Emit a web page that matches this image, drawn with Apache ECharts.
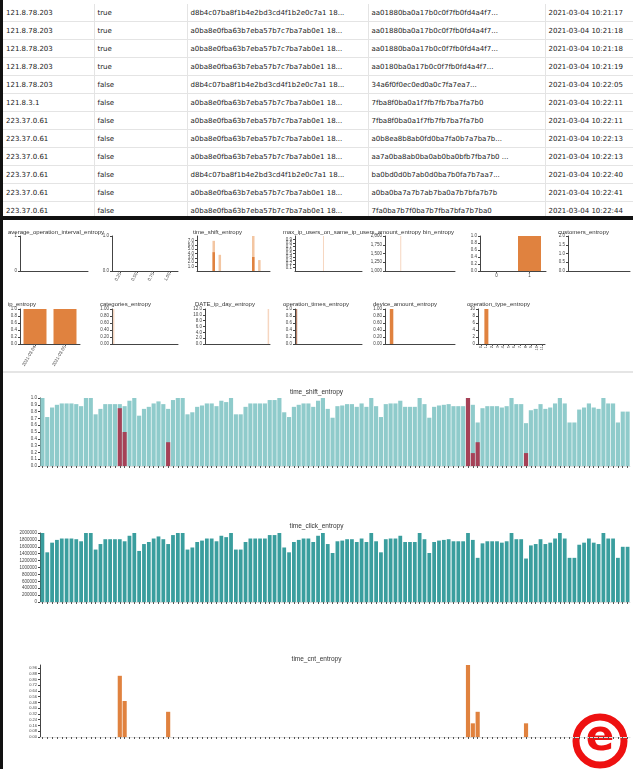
<!DOCTYPE html>
<html>
<head>
<meta charset="utf-8">
<script src="https://cdn.jsdelivr.net/npm/echarts@6/dist/echarts.min.js"></script>
<style>
  html, body { margin: 0; padding: 0; width: 633px; height: 769px; overflow: hidden; background: #fff; font-family: "DejaVu Sans", sans-serif; }
  .left-border { position: absolute; left: 0; top: 0; width: 3px; height: 769px; background: #111; }
  .table-wrap { position: absolute; left: 3px; top: 0; width: 630px; height: 216px; overflow: hidden; }
  .table-wrap table { border-collapse: collapse; margin-top: 4px; table-layout: fixed; width: 630px; }
  .table-wrap td { height: 17px; border-bottom: 1px solid #e4e4e4; border-right: 1px solid #e4e4e4; padding: 0 0 0 3px;
    font-size: 7px; color: #222; white-space: nowrap; overflow: hidden; }
  .table-wrap td:last-child { border-right: none; }
  .sep { position: absolute; left: 0; top: 216px; width: 633px; height: 4px; background: #111; }
  #chart { position: absolute; left: 0; top: 220px; width: 633px; height: 549px; }
</style>
</head>
<body>
<div class="table-wrap"><table id="tbl"></table></div>
<div class="left-border"></div>
<div class="sep"></div>
<div id="chart"></div>
<script>
// ---- table rows ----
const rowIps = ['121.8.78.203', '121.8.78.203', '121.8.78.203', '121.8.78.203', '121.8.78.203', '121.8.3.1',
  '223.37.0.61', '223.37.0.61', '223.37.0.61', '223.37.0.61', '223.37.0.61', '223.37.0.61'];
const rowFlags = ['true', 'true', 'true', 'true', 'false', 'false', 'false', 'false', 'false', 'false', 'false', 'false'];
const rowUserHash = [
  'd8b4c07ba8f1b4e2bd3cd4f1b2e0c7a1 18...', 'a0ba8e0fba63b7eba57b7c7ba7ab0e1 18...', 'a0ba8e0fba63b7eba57b7c7ba7ab0e1 18...',
  'a0ba8e0fba63b7eba57b7c7ba7ab0e1 18...', 'd8b4c07ba8f1b4e2bd3cd4f1b2e0c7a1 18...', 'a0ba8e0fba63b7eba57b7c7ba7ab0e1 18...',
  'a0ba8e0fba63b7eba57b7c7ba7ab0e1 18...', 'a0ba8e0fba63b7eba57b7c7ba7ab0e1 18...', 'a0ba8e0fba63b7eba57b7c7ba7ab0e1 18...',
  'd8b4c07ba8f1b4e2bd3cd4f1b2e0c7a1 18...', 'a0ba8e0fba63b7eba57b7c7ba7ab0e1 18...', 'a0ba8e0fba63b7eba57b7c7ba7ab0e1 18...'];
const rowSessionHash = [
  'aa01880ba0a17b0c0f7fb0fd4a4f7...', 'aa01880ba0a17b0c0f7fb0fd4a4f7...', 'aa01880ba0a17b0c0f7fb0fd4a4f7...',
  'aa0180ba0a17b0c0f7fb0fd4a4f7...', '34a6f0f0ec0ed0a0c7fa7ea7...', '7fba8f0ba0a1f7fb7fb7ba7fa7b0',
  '7fba8f0ba0a1f7fb7fb7ba7fa7b0', 'a0b8ea8b8ab0fd0ba7fa0b7a7ba7b...', 'aa7a0ba8ab0ba0ab0ba0bfb7fba7b0 ...',
  'ba0bd0d0b7ab0d0ba7b0fa7b7aa7...', 'a0ba0ba7a7b7ab7ba0a7b7bfa7b7b', '7fa0ba7b7f0ba7b7fba7bfa7b7ba0'];
const rowTimes = ['2021-03-04 10:21:17', '2021-03-04 10:21:18', '2021-03-04 10:21:18', '2021-03-04 10:21:19',
  '2021-03-04 10:22:05', '2021-03-04 10:22:11', '2021-03-04 10:22:11', '2021-03-04 10:22:13', '2021-03-04 10:22:13',
  '2021-03-04 10:22:40', '2021-03-04 10:22:41', '2021-03-04 10:22:44'];

const colWidths = [91, 93, 181, 177, 88];
const tbl = document.getElementById('tbl');
let html = '<colgroup>' + colWidths.map(w => `<col style="width:${w}px">`).join('') + '</colgroup>';
rowIps.forEach((ip, i) => {
  html += `<tr><td>${ip}</td><td>${rowFlags[i]}</td><td>${rowUserHash[i]}</td><td>${rowSessionHash[i]}</td><td>${rowTimes[i]}</td></tr>`;
});
tbl.innerHTML = html;

// ---- big charts data ----
// time_shift_entropy, one bar per day
const shiftEntropy = [
  1.0, 0.72, 0.86, 0.90, 0.92, 0.92, 0.92, 0.91, 0.88, 1.0,
  1.0, 0.76, 0.84, 0.91, 0.91, 0.91, 0.91, 0.88, 0.96, 1.0,
  0.74, 0.84, 0.87, 0.92, 0.95, 0.91, 0.84, 0.97, 1.0, 1.0,
  0.76, 0.79, 0.87, 0.89, 0.92, 0.92, 0.88, 0.96, 0.94, 1.0,
  0.76, 0.76, 0.87, 0.92, 0.92, 0.92, 0.92, 0.97, 0.97, 1.0,
  0.79, 0.72, 0.87, 0.90, 0.92, 0.92, 0.87, 0.96, 1.0, 0.84,
  0.71, 0.88, 0.89, 0.91, 0.91, 0.87, 0.92, 0.87, 1.0, 0.88,
  0.72, 0.91, 0.92, 0.92, 0.96, 0.87, 0.87, 0.87, 1.0, 0.91,
  0.71, 0.87, 0.89, 0.90, 0.91, 0.88, 0.88, 0.88, 1.0, 0.90,
  0.64, 0.85, 0.88, 0.88, 0.88, 0.86, 0.88, 1.0, 0.91, 0.91,
  0.63, 0.82, 0.84, 0.91, 0.84, 0.86, 0.92, 1.0, 0.92, 0.64,
  0.64, 0.83, 0.86, 0.92, 0.86, 0.84, 1.0, 0.92, 0.92, 0.64,
  0.80, 0.80
];
// time_click_entropy (same daily profile, large counts)
const clickEntropy = shiftEntropy;
// flagged days: index -> value
const flaggedDays = [16, 17, 26, 88, 89, 90, 100];
const flaggedVals = [0.85, 0.50, 0.35, 1.0, 0.19, 0.35, 0.19];
const days = shiftEntropy.map((_, i) => String(i + 1));
const flagged = days.map(() => 0);
flaggedDays.forEach((d, k) => { flagged[d] = flaggedVals[k]; });

// ---- small panel data ----
const shiftHistLight = [0, 0, 0, 0, 0, 6.9, 0, 3.7, 0, 0, 0, 0, 0, 0, 0, 0, 0, 0, 8.0, 0, 2.5, 0, 0, 0];
const shiftHistDark  = [0, 0, 0, 0, 0, 4.3, 0, 0, 0, 0, 0, 0, 0, 0, 0, 0, 0, 0, 3.2, 0, 0, 0, 0, 0];
const maxIpUsersHist = [0, 0, 0, 0, 0, 0, 0, 0, 1.0, 0, 0, 0, 0, 0, 0, 0, 0, 0, 0, 0];
const amountHist     = [0, 0, 0, 0, 2000, 0, 0, 0, 0, 0, 0, 0, 0, 0, 0, 0, 0, 0, 0, 0];
const binCats = ['0', '1'];
const binVals = [0, 1.0];
const ipCats = ['2021-03-04', '2021-03-05'];
const ipVals = [1.0, 1.0];
const categoriesHist = [1.0, 0, 0, 0, 0, 0, 0, 0, 0, 0, 0, 0, 0, 0, 0, 0, 0, 0, 0, 0];
const dateHist       = [0, 0, 0, 0, 0, 0, 0, 0, 0, 0, 0, 0, 0, 0, 0, 0, 0, 0, 0, 12];
const opTimesHist    = [1.0, 0, 0, 0, 0, 0, 0, 0, 0, 0, 0, 0, 0, 0, 0, 0, 0, 0, 0, 0];
const deviceHist     = [0, 1.0, 0, 0, 0, 0, 0, 0, 0, 0, 0, 0, 0, 0, 0, 0];
const opTypeCats = ['0', '1', '2', '3', '4', '5', '6', '7', '8', '9', '10', '11'];
const opTypeVals = [0, 10, 0, 0, 0, 0, 0, 0, 0, 0, 0, 0];
const intervalCats = ['0.25', '0.50', '0.75', '1.00'];

const ORANGE = '#e0823f', FAINT = '#f6d6c0', LIGHT = '#f3c6a2', BROWN = '#a8694a';
const blank = n => Array.from({ length: n }, (_, i) => String(i));

const option = { animation: false, title: [], grid: [], xAxis: [], yAxis: [], series: [], graphic: [] };

function addTitle(text, left, top, size) {
  option.title.push({ text, left, top, textStyle: { fontSize: size || 6, fontWeight: 'normal', color: '#333' } });
}

function addPanel(p) {
  const i = option.grid.length;
  option.grid.push({ left: p.left, top: p.top, width: p.width, height: p.height });
  option.xAxis.push({
    gridIndex: i, type: 'category', data: p.cats,
    axisLine: { lineStyle: { color: p.xLineColor || '#444' } },
    axisTick: { show: !!p.xTick, length: 2, alignWithLabel: true, interval: 0, lineStyle: { color: '#555' } },
    axisLabel: { show: !!p.xLabels, fontSize: p.xFont || 4.5, color: '#444', rotate: p.rotate || 0, interval: 0, margin: 2 }
  });
  option.yAxis.push({
    gridIndex: i, type: 'value', min: p.min || 0, max: p.max, interval: p.interval,
    splitLine: { show: false },
    axisLine: { show: true, lineStyle: { color: '#444' } },
    axisTick: { show: true, length: 2, lineStyle: { color: '#444' } },
    axisLabel: { fontSize: p.yFont || 4.5, color: '#444', margin: 3, formatter: p.fmt }
  });
  (p.series || []).forEach(s => option.series.push({
    type: 'bar', xAxisIndex: i, yAxisIndex: i, data: s.data, barWidth: s.width, barGap: '-100%',
    barCategoryGap: s.gap, itemStyle: { color: s.color, opacity: s.opacity == null ? 1 : s.opacity }, silent: true
  }));
}

const f1 = v => v.toFixed(1), f2 = v => v.toFixed(2);

// row 1 of small panels
const r1 = 16, r1h = 35;
addTitle('average_operation_interval_entropy', 3, 4);
addPanel({ left: 20, top: r1, width: 68, height: r1h, cats: blank(10), max: 1, interval: 1 });
addPanel({ left: 112, top: r1, width: 66, height: r1h, cats: intervalCats, xTick: true, xLabels: true, rotate: 60, max: 1, interval: 1, fmt: f1 });
addTitle('time_shift_entropy', 188, 4);
addPanel({ left: 197, top: r1, width: 73, height: r1h, cats: blank(24), max: 8, interval: 1, fmt: f1,
  series: [{ data: shiftHistLight, color: LIGHT, width: 2.5 }, { data: shiftHistDark, color: ORANGE, width: 2.5 }] });
addTitle('max_ip_users_on_same_ip_users_amount_entropy bin_entropy', 278, 4);
addPanel({ left: 295, top: r1, width: 67, height: r1h, cats: blank(20), max: 1, interval: 0.1, fmt: f1,
  series: [{ data: maxIpUsersHist, color: FAINT, width: 1 }] });
addPanel({ left: 385, top: r1, width: 70, height: r1h, cats: blank(20), min: 1000, max: 2000, interval: 250,
  series: [{ data: amountHist, color: FAINT, width: 1 }] });
addPanel({ left: 480, top: r1, width: 66, height: r1h, cats: binCats, xTick: true, xLabels: true, max: 1, interval: 0.2, fmt: f1,
  series: [{ data: binVals, color: ORANGE, width: 23 }] });
addTitle('customers_entropy', 553, 4);
addPanel({ left: 568, top: r1, width: 62, height: r1h, cats: blank(20), max: 2, interval: 0.5, fmt: f1 });

// row 2 of small panels
const r2 = 89, r2h = 35;
addTitle('ip_entropy', 3, 76.5);
addPanel({ left: 20, top: r2, width: 60, height: r2h, cats: ipCats, xTick: true, xLabels: true, rotate: 60, max: 1, interval: 0.2, fmt: f1,
  series: [{ data: ipVals, color: ORANGE, width: 23 }] });
addTitle('categories_entropy', 95, 76.5);
addPanel({ left: 112, top: r2, width: 66, height: r2h, cats: blank(20), max: 1, interval: 0.2, fmt: f2,
  series: [{ data: categoriesHist, color: FAINT, width: 1.5 }] });
addTitle('DATE_ip_day_entropy', 190, 76.5);
addPanel({ left: 205, top: r2, width: 65, height: r2h, cats: blank(20), max: 12, interval: 2, fmt: f1,
  series: [{ data: dateHist, color: FAINT, width: 1.5 }] });
addTitle('operation_times_entropy', 278, 76.5);
addPanel({ left: 295, top: r2, width: 67, height: r2h, cats: blank(20), max: 1, interval: 0.2, fmt: f1,
  series: [{ data: opTimesHist, color: BROWN, width: 1 }] });
addTitle('device_amount_entropy', 368, 76.5);
addPanel({ left: 385, top: r2, width: 70, height: r2h, cats: blank(16), max: 1, interval: 0.2, fmt: f2,
  series: [{ data: deviceHist, color: ORANGE, width: 3.5 }] });
addTitle('operation_type_entropy', 462, 76.5);
addPanel({ left: 478, top: r2, width: 67, height: r2h, cats: opTypeCats, xTick: true, xLabels: true, rotate: 90, xFont: 4, max: 10, interval: 2,
  series: [{ data: opTypeVals, color: ORANGE, width: 4 }] });

// big panels
addTitle('time_shift_entropy', 'center', 164, 6.5);
addPanel({ left: 40, top: 178, width: 590, height: 68, cats: days, xTick: true, xLineColor: '#ddd', max: 1, interval: 0.1, fmt: f1, yFont: 4.5,
  series: [{ data: shiftEntropy, color: '#8fcbcb', gap: '14%' }, { data: flagged, color: '#a8324a', gap: '14%', opacity: 0.9 }] });
addTitle('time_click_entropy', 'center', 298, 6.5);
addPanel({ left: 40, top: 313, width: 590, height: 69, cats: days, xTick: true, xLineColor: '#ddd', max: 1, interval: 0.1, yFont: 4.5,
  fmt: v => String(Math.round(v * 2000000)),
  series: [{ data: clickEntropy, color: '#3a9e9e', gap: '22%' }] });
addTitle('time_cnt_entropy', 'center', 431, 6.5);
addPanel({ left: 40, top: 445, width: 590, height: 72, cats: days, xTick: true, xLineColor: '#ddd', max: 1, interval: 0.08, fmt: v => v.toFixed(2), yFont: 4,
  series: [{ data: flagged, color: ORANGE, gap: '14%' }] });

// separator between panel grid and big charts, plus the corner logo
option.graphic = [
  { type: 'line', shape: { x1: 3, y1: 152, x2: 633, y2: 152 }, style: { stroke: '#dcdcdc', lineWidth: 1.5 }, silent: true },
  { type: 'circle', shape: { cx: 600, cy: 521, r: 24 }, style: { fill: '#fff', stroke: '#ee1111', lineWidth: 7 }, silent: true },
  { type: 'text', x: 600, y: 519, style: { text: 'e', fill: '#ee1111', font: 'bold 42px "DejaVu Sans"', align: 'center', verticalAlign: 'middle' }, silent: true }
];

const chart = echarts.init(document.getElementById('chart'));
chart.setOption(option);
</script>
</body>
</html>
